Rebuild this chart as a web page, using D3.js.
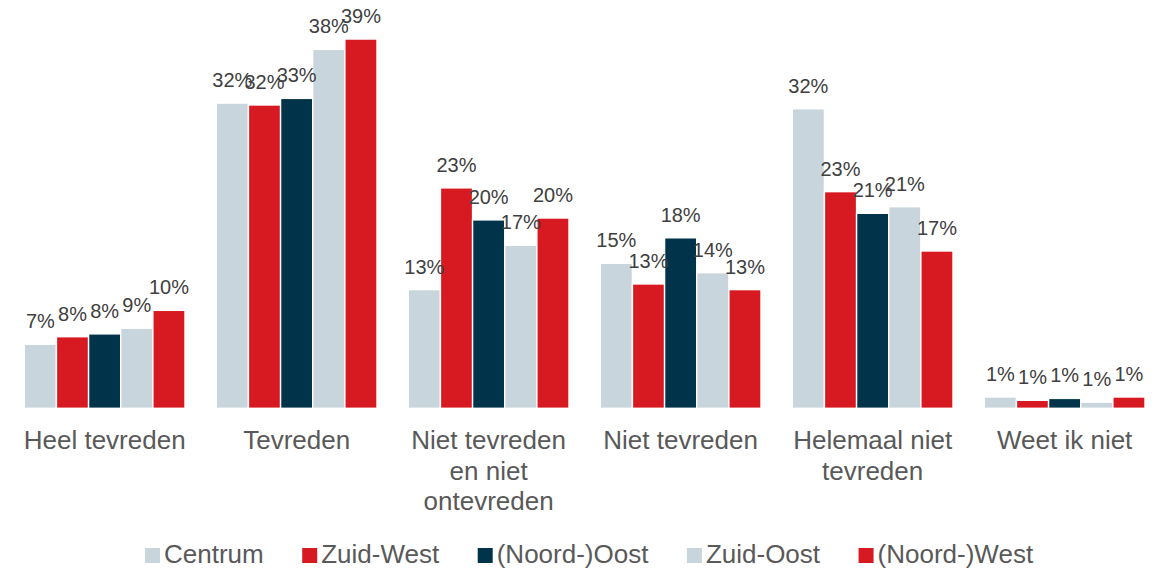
<!DOCTYPE html>
<html>
<head>
<meta charset="utf-8">
<script src="https://cdn.jsdelivr.net/npm/d3@7"></script>
<style>
  body { margin: 0; background: #fff; }
  svg { display: block; font-family: "Liberation Sans", Arial, sans-serif; }
</style>
</head>
<body>
<div id="chart"></div>
<script>
// categories and series
var categories = ['Heel tevreden', 'Tevreden', 'Niet tevreden en niet ontevreden',
                  'Niet tevreden', 'Helemaal niet tevreden', 'Weet ik niet'];
var seriesNames = ['Centrum', 'Zuid-West', '(Noord-)Oost', 'Zuid-Oost', '(Noord-)West'];
var seriesColors = ['#c8d5dc', '#d71a21', '#01344a', '#c8d5dc', '#d71a21'];

// percentages per series, one value per category
var centrum    = [6.8, 32.4, 12.6, 15.4, 31.8, 1.2];
var zuidWest   = [7.6, 32.2, 23.4, 13.2, 23.0, 0.85];
var noordOost  = [7.9, 32.9, 20.0, 18.1, 20.7, 1.05];
var zuidOost   = [8.5, 38.1, 17.3, 14.4, 21.4, 0.65];
var noordWest  = [10.4, 39.2, 20.2, 12.6, 16.7, 1.2];
var seriesValues = [centrum, zuidWest, noordOost, zuidOost, noordWest];

var width = 1162, height = 570;

var svg = d3.select('#chart')
  .append('svg')
  .attr('width', width)
  .attr('height', height);

// group scale and bar scale inside each group
var x0 = d3.scaleBand()
  .domain(categories)
  .range([8.65, 1160.65])
  .paddingInner(0.163)
  .paddingOuter(0.0815);

var x1 = d3.scaleBand()
  .domain(seriesNames)
  .range([0, x0.bandwidth()]);

var y = d3.scaleLinear()
  .domain([0, 40])
  .range([408.3, 31.5]);

var rows = [];
categories.forEach(function (c, ci) {
  seriesNames.forEach(function (s, si) {
    rows.push({cat: c, name: s, idx: si, value: seriesValues[si][ci]});
  });
});

var groups = svg.append('g');

groups.selectAll('rect')
  .data(rows)
  .enter()
  .append('rect')
  .attr('x', function (d) { return x0(d.cat) + x1(d.name); })
  .attr('y', function (d) { return y(d.value); })
  .attr('width', x1.bandwidth())
  .attr('height', function (d) { return y(0) - y(d.value); })
  .attr('fill', function (d) { return seriesColors[d.idx]; })
  .attr('stroke', '#fff')
  .attr('stroke-width', 1.4);

// value labels
groups.selectAll('text.value')
  .data(rows)
  .enter()
  .append('text')
  .attr('class', 'value')
  .attr('x', function (d) { return x0(d.cat) + x1(d.name) + x1.bandwidth() / 2; })
  .attr('y', function (d) { return y(d.value) - 16; })
  .attr('text-anchor', 'middle')
  .attr('font-size', 20)
  .attr('fill', '#404040')
  .text(function (d) { return Math.round(d.value) + '%'; });

// category axis, labels wrapped to the group width
var xAxis = svg.append('g')
  .attr('transform', 'translate(0,' + y(0) + ')')
  .call(d3.axisBottom(x0).tickSize(0).tickPadding(0));

xAxis.select('.domain').remove();

xAxis.selectAll('.tick text')
  .attr('font-size', 26)
  .attr('font-family', '"Liberation Sans", Arial, sans-serif')
  .attr('fill', '#595959')
  .attr('dy', null)
  .attr('y', 40.7)
  .each(function (d) {
    var t = d3.select(this);
    var words = d.split(' ');
    t.text(null);
    var lines = [], line = [];
    var tmp = t.append('tspan');
    words.forEach(function (w) {
      line.push(w);
      tmp.text(line.join(' '));
      if (tmp.node().getComputedTextLength() > x0.bandwidth() + 4 && line.length > 1) {
        line.pop();
        lines.push(line.join(' '));
        line = [w];
      }
    });
    lines.push(line.join(' '));
    tmp.remove();
    lines.forEach(function (l, i) {
      t.append('tspan')
        .attr('x', 0)
        .attr('dy', i === 0 ? 0 : 30.7)
        .text(l);
    });
  });

// legend
var legend = svg.append('g')
  .attr('transform', 'translate(145,563)');

var lx = 0;
seriesNames.forEach(function (s, i) {
  var item = legend.append('g').attr('transform', 'translate(' + lx + ',0)');
  item.append('rect')
    .attr('x', 0)
    .attr('y', -15)
    .attr('width', 15)
    .attr('height', 15)
    .attr('fill', seriesColors[i]);
  var txt = item.append('text')
    .attr('x', 19)
    .attr('y', 0)
    .attr('font-size', 26)
    .attr('fill', '#595959')
    .text(s);
  lx += 19 + txt.node().getComputedTextLength() + 38.5;
});
</script>
</body>
</html>
